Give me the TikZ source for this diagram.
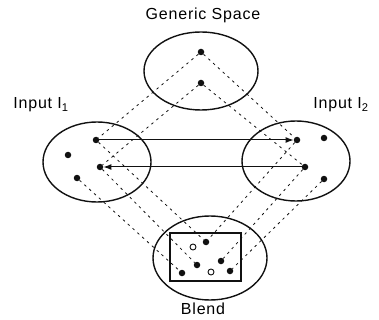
\documentclass[tikz,border=0pt]{standalone}
\usepackage{fontspec}
\setmainfont[LetterSpace=5]{Liberation Sans}
\usepackage{tikz}
\usetikzlibrary{arrows.meta,shapes.geometric}
\definecolor{ink}{HTML}{111111}

\tikzset{
  space/.style={draw=ink,ellipse,line width=1.4pt,inner sep=0pt},
  elem/.style={circle,fill=ink,inner sep=0pt,minimum size=6.5pt},
  hollow/.style={circle,draw=ink,fill=white,line width=0.9pt,inner sep=0pt,minimum size=6pt},
  proj/.style={draw=ink,dash pattern=on 2.5pt off 4pt,line width=0.8pt},
  link/.style={draw=ink,line width=1pt,-{Latex[length=8pt,width=6pt]}},
}

\begin{document}
\begin{tikzpicture}[x=1pt,y=-1pt,font=\fontsize{16}{19}\selectfont]
    \useasboundingbox (0,0) rectangle (379,320);
    \node[space,minimum width=114pt,minimum height=78pt] (generic) at (201,71) {};
    \node[space,minimum width=108pt,minimum height=80pt] (inA) at (97,162) {};
    \node[space,minimum width=108pt,minimum height=80pt] (inB) at (296,161) {};
    \node[space,minimum width=114pt,minimum height=84pt] (blend) at (210,258) {};
    \node[draw=ink,line width=1.6pt,minimum width=71pt,minimum height=48pt,inner sep=0pt]
      (frame) at (205.5,257) {};

    \node (lgeneric) at (203,15) {Generic Space};
    \node (linA) at (41,105) {Input I\textsubscript{1}};
    \node (linB) at (341,105) {Input I\textsubscript{2}};
    \node (lblend) at (203,309) {Blend};

    \foreach \n/\x/\y in {g1/201/52, g2/201/83,
      a1/96/140, a2/68/155, a3/100/167, a4/77/178,
      b1/297/140, b2/324/138, b3/305/167, b4/324/179,
      c1/206/242, c3/197/265, c4/221/261, c5/182/273, c7/230/271}
      \node[elem] (\n) at (\x,\y) {};
    \foreach \n/\x/\y in {c2/193/247, c6/211/272}
      \node[hollow] (\n) at (\x,\y) {};

    % counterpart mappings
    \foreach \s/\t in {g1/a1, g1/b1, g2/a3, g2/b3,
      a1/c1, a3/c3, a4/c5, b1/c1, b3/c4, b4/c7}
      \draw[proj] (\s) -- (\t);

    \draw[link] (a1) -- (b1);
    \draw[link] (b3) -- (a3);
\end{tikzpicture}
\end{document}
